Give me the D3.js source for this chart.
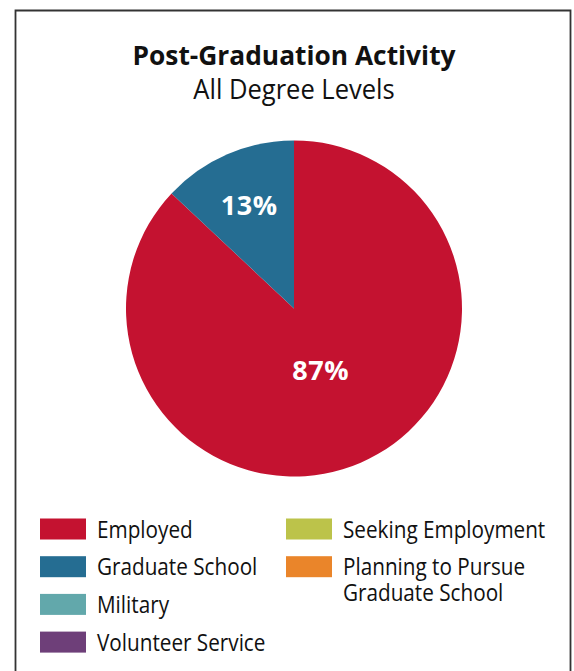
<!DOCTYPE html>
<html>
<head>
<meta charset="utf-8">
<script src="https://cdn.jsdelivr.net/npm/d3@7"></script>
<style>
  body { margin: 0; background: #fff; }
  svg { display: block; font-family: "Open Sans", "Noto Sans", sans-serif; }
</style>
</head>
<body>
<div id="chart"></div>
<script>
// chart data
var categories = ["Employed", "Graduate School", "Military", "Volunteer Service", "Seeking Employment", "Planning to Pursue Graduate School"];
var values = [87, 13, 0, 0, 0, 0];
var colors = ["#c41230", "#256d92", "#62a8ab", "#6e3f79", "#bcc34a", "#ea852a"];
var legendLines = [["Employed"], ["Graduate School"], ["Military"], ["Volunteer Service"], ["Seeking Employment"], ["Planning to Pursue", "Graduate School"]];
var titleText = "Post-Graduation Activity";
var subtitleText = "All Degree Levels";

var width = 574, height = 671;
var cx = 294, cy = 308.5, radius = 168;

// the original face is narrower than Open Sans, squeeze a bit
function condense(sel, k) {
    sel.each(function () {
        var n = this;
        var w = n.getComputedTextLength();
        d3.select(n).attr("textLength", w * k).attr("lengthAdjust", "spacingAndGlyphs");
    });
}

var svg = d3.select("#chart").append("svg")
    .attr("width", width)
    .attr("height", height);

// frame (bottom edge runs off the page)
svg.append("path")
    .attr("d", "M15.5," + height + "V10.5H570.5V" + height)
    .attr("fill", "none")
    .attr("stroke", "#333")
    .attr("stroke-width", 1.8);

svg.append("text")
    .attr("x", cx).attr("y", 64.5)
    .attr("text-anchor", "middle")
    .attr("font-size", 27)
    .attr("font-weight", "bold")
    .attr("fill", "#111")
    .text(titleText)
    .call(condense, 0.975);

svg.append("text")
    .attr("x", cx).attr("y", 98.5)
    .attr("text-anchor", "middle")
    .attr("font-size", 27)
    .attr("fill", "#111")
    .text(subtitleText)
    .call(condense, 0.945);

var data = categories.map(function (c, i) { return { name: c, value: values[i], color: colors[i] }; });

var pie = d3.pie().sort(null).value(function (d) { return d.value; });
var arc = d3.arc().innerRadius(0).outerRadius(radius);

var g = svg.append("g").attr("transform", "translate(" + cx + "," + cy + ")");
var arcs = pie(data).filter(function (d) { return d.data.value > 0; });

g.selectAll("path.slice")
    .data(arcs)
    .enter().append("path")
    .attr("class", "slice")
    .attr("d", arc)
    .attr("fill", function (d) { return d.data.color; });

g.selectAll("text.pct")
    .data(arcs)
    .enter().append("text")
    .attr("class", "pct")
    .attr("transform", function (d) {
        var r = radius * (d.data.value > 50 ? 0.4 : 0.67);
        var c = d3.arc().innerRadius(r).outerRadius(r).centroid(d);
        return "translate(" + c[0] + "," + c[1] + ")";
    })
    .attr("text-anchor", "middle")
    .attr("dy", "0.36em")
    .attr("font-size", 27)
    .attr("font-weight", "bold")
    .attr("letter-spacing", 0.6)
    .attr("fill", "#fff")
    .text(function (d) { return d.data.value + "%"; });

// legend: two columns
var legend = svg.append("g");
var item = legend.selectAll("g.item")
    .data(data)
    .enter().append("g")
    .attr("class", "item")
    .attr("transform", function (d, i) {
        var col = i < 4 ? 0 : 1, row = i < 4 ? i : i - 4;
        return "translate(" + (col ? 286 : 40) + "," + (518.5 + row * 37.7) + ")";
    });

item.append("rect")
    .attr("width", 46).attr("height", 21)
    .attr("fill", function (d) { return d.color; });

item.append("text")
    .attr("y", 19)
    .attr("font-size", 23)
    .attr("fill", "#111")
    .each(function (d, i) {
        var t = d3.select(this);
        legendLines[i].forEach(function (line, j) {
            t.append("tspan").attr("x", 57).attr("dy", j ? 26 : 0).text(line)
                .call(condense, 0.9);
        });
    });
</script>
</body>
</html>
